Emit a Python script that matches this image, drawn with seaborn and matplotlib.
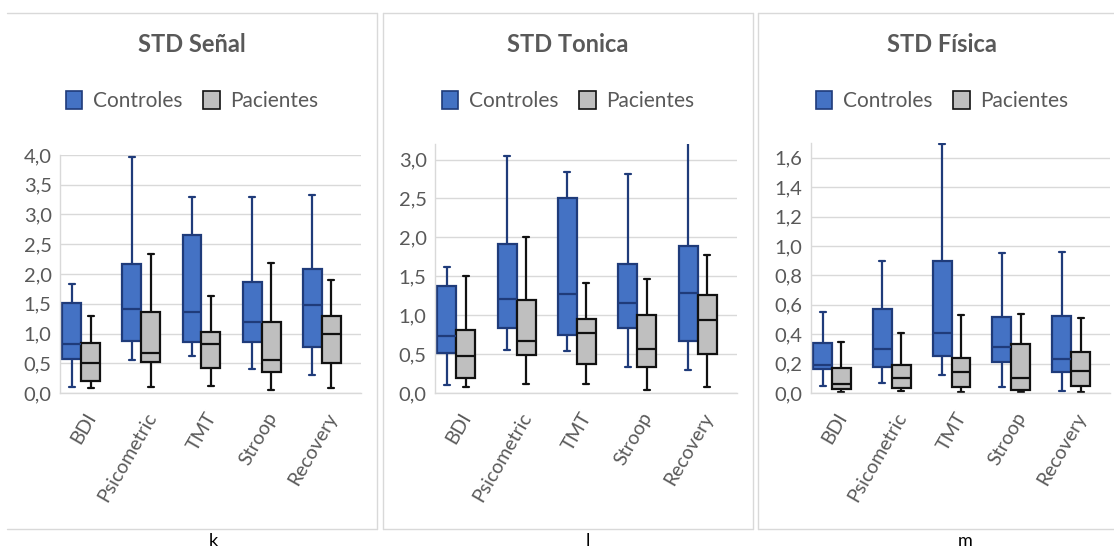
import numpy as np
import pandas as pd
import matplotlib
matplotlib.use("Agg")
import matplotlib.pyplot as plt
import seaborn as sns
from matplotlib.patches import Patch
from matplotlib.lines import Line2D
from matplotlib.ticker import FuncFormatter, MultipleLocator
from matplotlib.transforms import ScaledTranslation

categories = ["BDI", "Psicometric", "TMT", "Stroop", "Recovery"]
groups = ["Controles", "Pacientes"]
titles = ["STD Señal", "STD Tonica", "STD Física"]
panel_letters = ["k", "l", "m"]

# five-number summaries per category: (min, q1, median, q3, max)
senal_controles = [[0.10, 0.57, 0.82, 1.51, 1.84], [0.56, 0.88, 1.41, 2.16, 3.97],
                   [0.62, 0.85, 1.36, 2.66, 3.29], [0.41, 0.85, 1.20, 1.87, 3.30],
                   [0.31, 0.77, 1.48, 2.09, 3.32]]
senal_pacientes = [[0.08, 0.20, 0.50, 0.84, 1.29], [0.10, 0.52, 0.68, 1.36, 2.33],
                   [0.11, 0.42, 0.82, 1.02, 1.63], [0.045, 0.36, 0.555, 1.20, 2.18],
                   [0.08, 0.50, 0.99, 1.30, 1.90]]
tonica_controles = [[0.10, 0.52, 0.73, 1.38, 1.62], [0.55, 0.84, 1.21, 1.91, 3.05],
                    [0.54, 0.75, 1.27, 2.51, 2.84], [0.33, 0.84, 1.16, 1.66, 2.82],
                    [0.29, 0.67, 1.29, 1.89, 3.35]]
tonica_pacientes = [[0.08, 0.19, 0.47, 0.81, 1.50], [0.11, 0.49, 0.67, 1.19, 2.00],
                    [0.12, 0.37, 0.77, 0.95, 1.41], [0.04, 0.33, 0.56, 1.00, 1.47],
                    [0.08, 0.50, 0.94, 1.26, 1.77]]
fasica_controles = [[0.05, 0.16, 0.19, 0.34, 0.55], [0.07, 0.18, 0.30, 0.57, 0.90],
                    [0.12, 0.25, 0.41, 0.90, 1.69], [0.04, 0.21, 0.31, 0.52, 0.95],
                    [0.014, 0.14, 0.23, 0.525, 0.96]]
fasica_pacientes = [[0.007, 0.025, 0.06, 0.17, 0.35], [0.011, 0.032, 0.10, 0.19, 0.41],
                    [0.009, 0.043, 0.14, 0.24, 0.53], [0.007, 0.023, 0.105, 0.33, 0.54],
                    [0.009, 0.05, 0.15, 0.28, 0.51]]

panels = [(senal_controles, senal_pacientes),
          (tonica_controles, tonica_pacientes),
          (fasica_controles, fasica_pacientes)]
y_max = [4.0, 3.2, 1.7]
y_step = [0.5, 0.5, 0.2]

rows = []
for p, (ctrl, pac) in enumerate(panels):
    for g, summ in zip(groups, (ctrl, pac)):
        for cat, vals in zip(categories, summ):
            for v in vals:
                rows.append({"panel": p, "group": g, "category": cat, "value": v})
df = pd.DataFrame(rows)

sns.set_style("white")
plt.rcParams["font.family"] = ["Lato", "DejaVu Sans"]

BLUE, BLUE_EDGE = "#4472C4", "#1F3B7A"
GRAY, GRAY_EDGE = "#BFBFBF", "#111111"
TXT = "#595959"
GRID = "#D9D9D9"
palette = {"Controles": BLUE, "Pacientes": GRAY}
edges = {"Controles": BLUE_EDGE, "Pacientes": GRAY_EDGE}

W, H = 1114, 550
fig = plt.figure(figsize=(W / 100, H / 100), dpi=100)

axes_px = [(60, 155, 301), (435, 144, 302), (811, 143, 299)]  # left, top, width
bottom_px = 393
frames = [(7, 377), (383, 753), (758, 1126)]
letter_x = [213, 588, 965]
frame_top, frame_bot = 13, 529


def fx(px):
    return px / W


def fy(py):
    return 1 - py / H


for i, (ctrl, pac) in enumerate(panels):
    l, t, w = axes_px[i]
    ax = fig.add_axes([fx(l), fy(bottom_px), w / W, (bottom_px - t) / H])
    for g in groups:
        sub = df[(df.panel == i) & (df.group == g)]
        sns.boxplot(data=sub, x="category", y="value", hue="group",
                    hue_order=groups, order=categories, palette=palette,
                    dodge=True, width=0.63, gap=0, whis=(0, 100),
                    linecolor=edges[g], linewidth=1.6, fliersize=0,
                    saturation=1, legend=False, capwidths=0.1, ax=ax)
    ax.set_xlim(-0.35, 4.65)
    ax.set_ylim(0, y_max[i])
    ax.yaxis.set_major_locator(MultipleLocator(y_step[i]))
    ax.yaxis.set_major_formatter(FuncFormatter(lambda v, pos: f"{v:.1f}".replace(".", ",")))
    ax.yaxis.grid(True, color=GRID, linewidth=1.0)
    ax.set_axisbelow(True)
    for s in ["top", "right"]:
        ax.spines[s].set_visible(False)
    for s in ["left", "bottom"]:
        ax.spines[s].set_color(GRID)
        ax.spines[s].set_linewidth(1.0)
    ax.set_xlabel("")
    ax.set_ylabel("")
    ax.tick_params(length=0)
    ax.tick_params(axis="y", labelsize=14.5, labelcolor=TXT, pad=6)
    ax.tick_params(axis="x", labelsize=14, labelcolor=TXT, pad=15)
    ax.set_xticks(range(len(categories)))
    ax.set_xticklabels(categories, rotation=60, ha="right", va="center",
                       rotation_mode="anchor")
    off = ScaledTranslation(11 / 100, 0, fig.dpi_scale_trans)
    for lab in ax.get_xticklabels():
        lab.set_transform(lab.get_transform() + off)

    # chart-area frame
    x0, x1 = frames[i]
    segs = [((x0, x1), (frame_top, frame_top)), ((x0, x1), (frame_bot, frame_bot)),
            ((x1, x1), (frame_top, frame_bot))]
    if i > 0:
        segs.append(((x0, x0), (frame_top, frame_bot)))
    for xs, ys in segs:
        fig.add_artist(Line2D([fx(v) for v in xs], [fy(v) for v in ys],
                              transform=fig.transFigure, color=GRID, linewidth=1.0))

    cx = fx((x0 + x1) / 2)
    fig.text(cx, fy(45), titles[i], ha="center", va="center",
             fontsize=17, fontweight="bold", color=TXT)
    handles = [Patch(facecolor=palette[g], edgecolor=edges[g], linewidth=1.2) for g in groups]
    fig.legend(handles, groups, loc="center", bbox_to_anchor=(cx, fy(101)),
               ncol=2, frameon=False, fontsize=15, handlelength=0.8,
               handleheight=1.0, handletextpad=0.5, columnspacing=1.0,
               labelcolor=TXT)
    fig.text(fx(letter_x[i]), fy(541), panel_letters[i], ha="center",
             va="center", fontsize=13, color="#000000")

fig.savefig("out.png", dpi=100, facecolor="white")
